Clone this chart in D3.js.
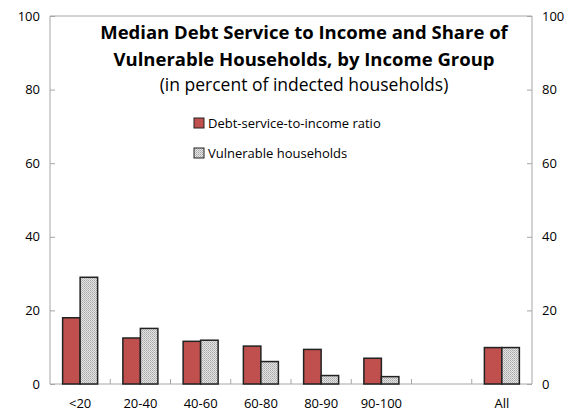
<!DOCTYPE html>
<html>
<head>
<meta charset="utf-8">
<script src="https://cdn.jsdelivr.net/npm/d3@7"></script>
<style>
  body { margin: 0; background: #fff; }
  text { font-family: "Open Sans", "Noto Sans", sans-serif; }
</style>
</head>
<body>
<svg></svg>
<script>
const width = 577;
const height = 412;
const margin = { left: 50, right: 45, top: 16, bottom: 28 };

// income groups, one empty slot before "All"
const groups = ["<20", "20-40", "40-60", "60-80", "80-90", "90-100", "", "All"];
const dstiRatio = [18.0, 12.5, 11.6, 10.3, 9.4, 7.0, null, 9.9];
const vulnerable = [29.0, 15.1, 11.9, 6.1, 2.3, 2.0, null, 9.9];
const yTicks = [0, 20, 40, 60, 80, 100];
const seriesNames = ["Debt-service-to-income  ratio", "Vulnerable households"];

let svg = d3.select("svg")
    .attr("width", width)
    .attr("height", height);

// fine dotted fill for the second series
let pat = svg.append("defs").append("pattern")
    .attr("id", "dots")
    .attr("width", 2).attr("height", 2)
    .attr("patternUnits", "userSpaceOnUse");
pat.append("rect").attr("width", 2).attr("height", 2).attr("fill", "#e4e4e4");
pat.append("rect").attr("width", 1).attr("height", 1).attr("fill", "#a8a8a8");
pat.append("rect").attr("x", 1).attr("y", 1).attr("width", 1).attr("height", 1).attr("fill", "#bcbcbc");

const plotW = width - margin.left - margin.right;
const plotH = height - margin.top - margin.bottom;

let scX = d3.scaleBand()
    .domain(d3.range(groups.length))
    .range([0, plotW]);
let scInner = d3.scaleBand()
    .domain([0, 1])
    .range([0, 35])
let scY = d3.scaleLinear()
    .domain([0, 100])
    .range([plotH, 0]);

let g = svg.append("g")
    .attr("transform", `translate(${margin.left}, ${margin.top})`);

const axisColor = "#a6a6a6";

// frame: top line
g.append("line")
    .attr("x1", 0).attr("x2", plotW)
    .attr("y1", 0).attr("y2", 0)
    .attr("stroke", axisColor);

// left axis
let axL = g.append("g").call(d3.axisLeft(scY).tickValues(yTicks).tickSize(-5).tickPadding(10));
// right axis
let axR = g.append("g")
    .attr("transform", `translate(${plotW}, 0)`)
    .call(d3.axisRight(scY).tickValues(yTicks).tickSize(-5).tickPadding(10));
[axL, axR].forEach(a => {
    a.select(".domain").attr("stroke", axisColor).attr("d", `M0,0V${plotH}`);
    a.selectAll(".tick line").attr("stroke", axisColor);
    a.selectAll("text").style("font-size", "13px").attr("fill", "#000");
});

// bottom axis with ticks between the groups
let axB = g.append("g").attr("transform", `translate(0, ${plotH})`);
axB.append("line")
    .attr("x1", 0).attr("x2", plotW)
    .attr("stroke", axisColor);
axB.selectAll(".sep")
    .data(d3.range(1, groups.length))
    .enter()
    .append("line")
    .attr("x1", d => scX(d)).attr("x2", d => scX(d))
    .attr("y1", 0).attr("y2", -5)
    .attr("stroke", axisColor);
axB.selectAll(".lbl")
    .data(groups)
    .enter()
    .append("text")
    .attr("x", (d, i) => scX(i) + scX.bandwidth() / 2)
    .attr("y", 24)
    .attr("text-anchor", "middle")
    .style("font-size", "13px")
    .text(d => d);

// bars
const fills = ["#c0504d", "url(#dots)"];
[dstiRatio, vulnerable].forEach((values, k) => {
    g.selectAll(".bar" + k)
        .data(values.map((v, i) => ({ v, i })).filter(d => d.v !== null))
        .enter()
        .append("rect")
        .attr("x", d => scX(d.i) + (scX.bandwidth() - 35) / 2 + scInner(k))
        .attr("y", d => scY(d.v))
        .attr("width", scInner.bandwidth())
        .attr("height", d => plotH - scY(d.v))
        .attr("fill", fills[k])
        .attr("stroke", "#222")
        .attr("stroke-width", 1.5);
});

// title
const cx = 304;
svg.append("text").attr("x", cx).attr("y", 39).attr("text-anchor", "middle")
    .style("font-size", "18.5px").style("font-weight", "bold")
    .text("Median Debt Service to Income and Share of");
svg.append("text").attr("x", cx).attr("y", 66).attr("text-anchor", "middle")
    .style("font-size", "18.5px").style("font-weight", "bold")
    .text("Vulnerable Households, by Income Group");
svg.append("text").attr("x", cx).attr("y", 91).attr("text-anchor", "middle")
    .style("font-size", "17.5px")
    .text("(in percent of indected  households)");

// legend
let leg = svg.selectAll(".leg")
    .data(seriesNames)
    .enter()
    .append("g")
    .attr("transform", (d, i) => `translate(194, ${118 + i * 30})`);
leg.append("rect")
    .attr("width", 10).attr("height", 10)
    .attr("fill", (d, i) => fills[i])
    .attr("stroke", "#222");
leg.append("text")
    .attr("x", 14).attr("y", 10)
    .style("font-size", "13px")
    .text(d => d);
</script>
</body>
</html>
